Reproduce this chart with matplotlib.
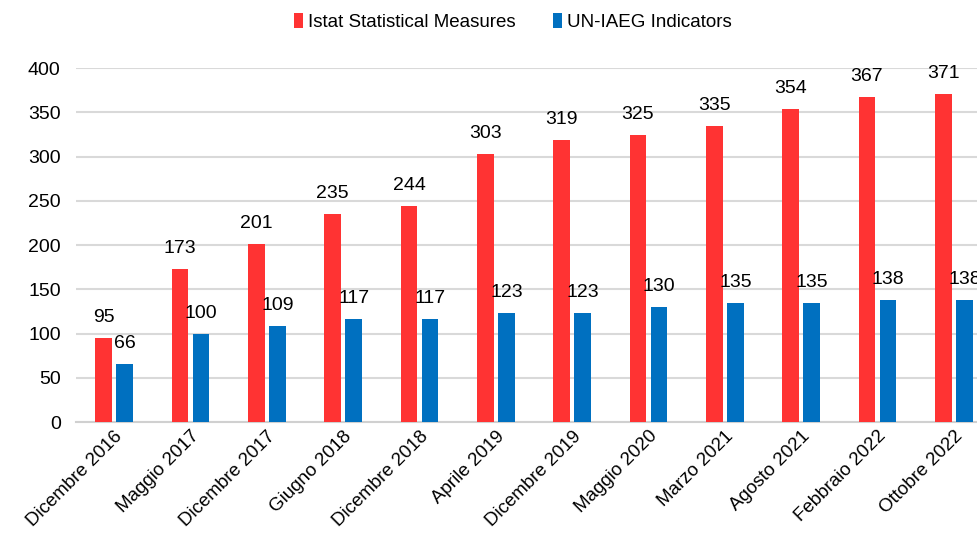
import numpy as np
import matplotlib.pyplot as plt

plt.rcParams['font.family'] = ['Liberation Sans', 'DejaVu Sans']

categories = ['Dicembre 2016', 'Maggio 2017', 'Dicembre 2017', 'Giugno 2018',
              'Dicembre 2018', 'Aprile 2019', 'Dicembre 2019', 'Maggio 2020',
              'Marzo 2021', 'Agosto 2021', 'Febbraio 2022', 'Ottobre 2022']
istat = [95, 173, 201, 235, 244, 303, 319, 325, 335, 354, 367, 371]
un_iaeg = [66, 100, 109, 117, 117, 123, 123, 130, 135, 135, 138, 138]

red = '#FF3333'
blue = '#0070C0'

fig = plt.figure(figsize=(9.77, 5.33), dpi=100)
ax = fig.add_axes([0.0778, 0.208, 0.9376, 0.664])

x = np.arange(len(categories))
w = 0.22
off = 0.138
b1 = ax.bar(x - off, istat, w, color=red, label='Istat Statistical Measures', zorder=3)
b2 = ax.bar(x + off, un_iaeg, w, color=blue, label='UN-IAEG Indicators', zorder=3)

# value labels above each bar
for bars, vals in [(b1, istat), (b2, un_iaeg)]:
    for rect, v in zip(bars, vals):
        ax.annotate(str(v), (rect.get_x() + rect.get_width() / 2, v),
                    xytext=(0, 11.5), textcoords='offset points',
                    ha='center', va='baseline', fontsize=14, zorder=4)

ax.set_xlim(-0.5, len(categories) - 0.5)
ax.set_ylim(0, 400)
ax.set_yticks(range(0, 401, 50))
ax.set_xticks(x)
ax.set_xticklabels(categories, rotation=45, ha='right', rotation_mode='anchor',
                   fontsize=13.5)
ax.tick_params(axis='both', length=0)
ax.tick_params(axis='y', pad=11, labelsize=14)
ax.tick_params(axis='x', pad=4)
ax.grid(axis='y', color='#D9D9D9', linewidth=1.5, zorder=0)
for s in ['top', 'right', 'left']:
    ax.spines[s].set_visible(False)
ax.spines['bottom'].set_color('#D0D0D0')
ax.spines['bottom'].set_linewidth(1.5)

fig.legend(loc='upper center', bbox_to_anchor=(0.525, 1.008), ncol=2, frameon=False,
           fontsize=13.5, handlelength=0.5, handleheight=0.9, handletextpad=0.25,
           columnspacing=2.0)

fig.savefig('out.png', dpi=100)
